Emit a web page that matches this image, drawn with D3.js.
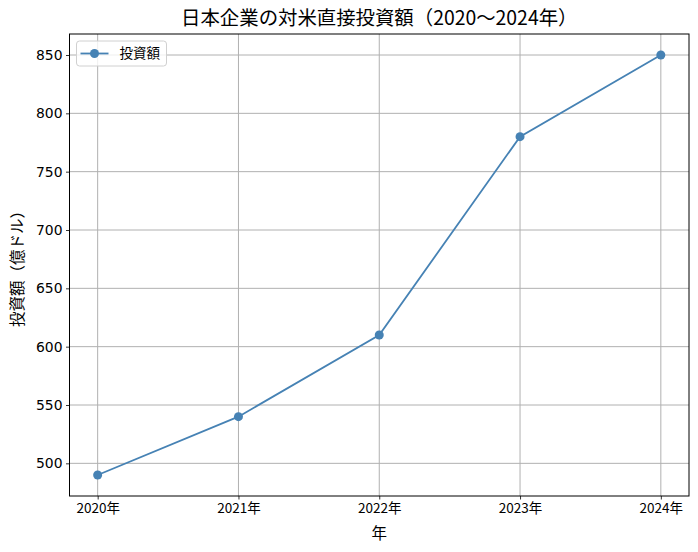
<!DOCTYPE html>
<html>
<head>
<meta charset="utf-8">
<script src="https://cdn.jsdelivr.net/npm/d3@7"></script>
<style>
	body { margin: 0; background: #fff; }
	svg { font-family: "Noto Sans CJK JP", "DejaVu Sans", sans-serif; }
</style>
</head>
<body>
<svg width="698" height="552"></svg>
<script>
// Data
const years = ["2020年", "2021年", "2022年", "2023年", "2024年"];
const amounts = [490, 540, 610, 780, 850];
const yTicks = [500, 550, 600, 650, 700, 750, 800, 850];

const svg = d3.select("svg");
const margin = { top: 34, right: 9, bottom: 56, left: 69.5 };
const width = 698 - margin.left - margin.right;
const height = 552 - margin.top - margin.bottom;

const data = years.map((y, i) => ({ year: y, amount: amounts[i], i: i }));

// matplotlib-like padding of 5% on each side
const xScale = d3.scaleLinear().domain([-0.2, years.length - 1 + 0.2]).range([0, width]);
const yMin = d3.min(amounts), yMax = d3.max(amounts);
const pad = (yMax - yMin) * 0.05;
const yScale = d3.scaleLinear().domain([yMin - pad, yMax + pad]).range([height, 0]);

const g = svg.append("g").attr("transform", `translate(${margin.left}, ${margin.top})`);

// grid
g.append("g")
	.selectAll("line")
	.data(yTicks)
	.enter()
	.append("line")
	.attr("x1", 0)
	.attr("x2", width)
	.attr("y1", (d) => yScale(d))
	.attr("y2", (d) => yScale(d))
	.attr("stroke", "#b0b0b0")
	.attr("stroke-width", 1);
g.append("g")
	.selectAll("line")
	.data(data)
	.enter()
	.append("line")
	.attr("x1", (d) => xScale(d.i))
	.attr("x2", (d) => xScale(d.i))
	.attr("y1", 0)
	.attr("y2", height)
	.attr("stroke", "#b0b0b0")
	.attr("stroke-width", 1);

// axes
const xAxis = d3.axisBottom(xScale)
	.tickValues(d3.range(years.length))
	.tickFormat((i) => years[i])
	.tickSize(3.5)
	.tickPadding(3.5);
const yAxis = d3.axisLeft(yScale)
	.tickValues(yTicks)
	.tickSize(3.5)
	.tickPadding(3.5);

const gx = g.append("g").attr("transform", `translate(0, ${height})`).call(xAxis);
const gy = g.append("g").call(yAxis);
[gx, gy].forEach((a) => {
	a.select(".domain").remove();
	a.selectAll(".tick line").attr("stroke", "#000").attr("stroke-width", 0.8);
	a.selectAll(".tick text").attr("fill", "#000");
});
gx.selectAll(".tick text")
	.style("font-size", "13.5px")
	.style("font-family", "\"Noto Sans CJK JP\", sans-serif");
gy.selectAll(".tick text")
	.style("font-size", "13.9px")
	.style("font-family", "\"DejaVu Sans\", sans-serif");

// frame
g.append("rect")
	.attr("width", width)
	.attr("height", height)
	.attr("fill", "none")
	.attr("stroke", "#000")
	.attr("stroke-width", 1);

// line + markers
const line = d3.line().x((d) => xScale(d.i)).y((d) => yScale(d.amount));
g.append("path")
	.datum(data)
	.attr("d", line)
	.attr("fill", "none")
	.attr("stroke", "steelblue")
	.attr("stroke-width", 1.8);
g.selectAll(".dot")
	.data(data)
	.enter()
	.append("circle")
	.attr("class", "dot")
	.attr("cx", (d) => xScale(d.i))
	.attr("cy", (d) => yScale(d.amount))
	.attr("r", 4.5)
	.attr("fill", "steelblue");

// title + labels
svg.append("text")
	.attr("x", margin.left + width / 2)
	.attr("y", 25)
	.attr("text-anchor", "middle")
	.style("font-size", "19.4px")
	.text("日本企業の対米直接投資額（2020〜2024年）");
svg.append("text")
	.attr("x", margin.left + width / 2)
	.attr("y", 539)
	.attr("text-anchor", "middle")
	.style("font-size", "15.5px")
	.text("年");
svg.append("text")
	.attr("transform", `translate(23, ${margin.top + height / 2}) rotate(-90)`)
	.attr("text-anchor", "middle")
	.style("font-size", "15.5px")
	.text("投資額（億ドル）");

// legend
const lg = g.append("g").attr("transform", "translate(7, 7)");
lg.append("rect")
	.attr("width", 90)
	.attr("height", 25)
	.attr("rx", 3)
	.attr("fill", "#fff")
	.attr("fill-opacity", 0.8)
	.attr("stroke", "#d0d0d0");
lg.append("line")
	.attr("x1", 4).attr("x2", 32)
	.attr("y1", 12.5).attr("y2", 12.5)
	.attr("stroke", "steelblue")
	.attr("stroke-width", 1.8);
lg.append("circle").attr("cx", 18).attr("cy", 12.5).attr("r", 4.5).attr("fill", "steelblue");
lg.append("text")
	.attr("x", 43)
	.attr("y", 17)
	.style("font-size", "13.5px")
	.text("投資額");
</script>
</body>
</html>
